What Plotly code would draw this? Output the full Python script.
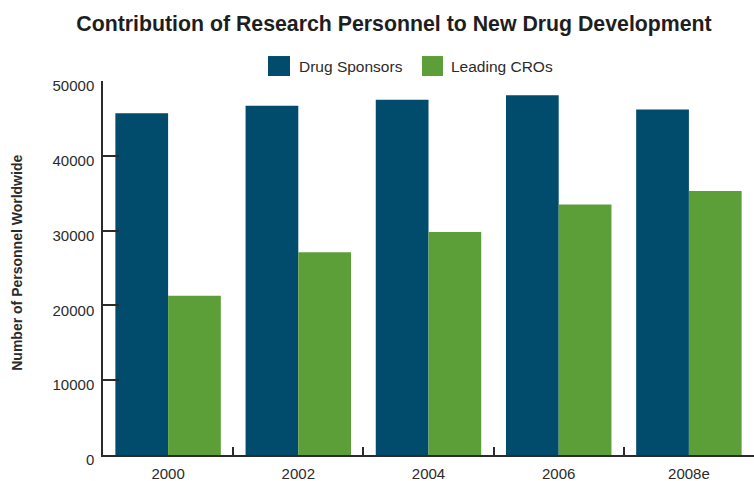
import plotly.graph_objects as go

# Research personnel headcount by year
years = ["2000", "2002", "2004", "2006", "2008e"]
drug_sponsors = [45700, 46700, 47500, 48100, 46200]
leading_cros = [21300, 27100, 29800, 33500, 35300]
series_names = ["Drug Sponsors", "Leading CROs"]
y_ticks = [0, 10000, 20000, 30000, 40000, 50000]

BLUE = "#014B6C"
GREEN = "#5C9F38"
INK = "#2b2b2b"
SANS = "Liberation Sans, Arial, sans-serif"

W, H = 754, 481
L, R, T, B = 103, 0, 81, 25.5
PW, PH = W - L - R, H - T - B


def px_x(x):
    return (x - L) / PW


def px_y(y):
    return (H - B - y) / PH


fig = go.Figure()
fig.add_trace(go.Bar(x=years, y=drug_sponsors, name=series_names[0],
                     marker=dict(color=BLUE, line=dict(width=0))))
fig.add_trace(go.Bar(x=years, y=leading_cros, name=series_names[1],
                     marker=dict(color=GREEN, line=dict(width=0))))

# Hand-placed legend with large swatches
legend_items = [(268, 290, 297, BLUE, series_names[0]),
                (422, 443, 449, GREEN, series_names[1])]
shapes, annotations = [], []
for x0, x1, tx, col, label in legend_items:
    shapes.append(dict(type="rect", xref="paper", yref="paper",
                       x0=px_x(x0), x1=px_x(x1), y0=px_y(76), y1=px_y(56),
                       fillcolor=col, line=dict(width=0)))
    annotations.append(dict(xref="paper", yref="paper", x=px_x(tx), y=px_y(66.5),
                            xanchor="left", yanchor="middle", showarrow=False,
                            text=label, font=dict(family=SANS, size=15.5, color=INK)))

annotations.append(dict(xref="paper", yref="paper", x=px_x(17), y=px_y(263),
                        xanchor="center", yanchor="middle", showarrow=False,
                        textangle=-90, text="<b>Number of Personnel Worldwide</b>",
                        font=dict(family=SANS, size=14, color=INK)))

fig.update_layout(
    width=W, height=H,
    margin=dict(l=L, r=R, t=T, b=B, autoexpand=False),
    paper_bgcolor="white", plot_bgcolor="white",
    barmode="group", bargap=0.19, bargroupgap=0,
    showlegend=False,
    title=dict(text="<b>Contribution of Research Personnel to New Drug Development</b>",
               x=394 / W, xanchor="center", xref="container",
               y=1 - 24 / H, yanchor="middle",
               font=dict(family=SANS, size=21.3, color="#1e1e1e")),
    shapes=shapes, annotations=annotations,
    xaxis=dict(type="category", range=[-0.5, 4.5], showgrid=False,
               showline=True, linecolor=INK, linewidth=1.5,
               ticks="inside", tickson="boundaries", ticklen=8, tickwidth=1.5,
               tickcolor=INK, tickfont=dict(family=SANS, size=15, color=INK),
               ticklabelstandoff=4, automargin=False),
    yaxis=dict(range=[0, 50000], tickvals=y_ticks, tickformat="d",
               showgrid=False, zeroline=False,
               showline=True, linecolor=INK, linewidth=1.5,
               ticks="inside", ticklen=16, tickwidth=1.5, tickcolor=INK,
               tickfont=dict(family=SANS, size=15, color=INK),
               ticklabelshift=5, ticklabelstandoff=4, automargin=False),
)

fig.write_html("out.html")
